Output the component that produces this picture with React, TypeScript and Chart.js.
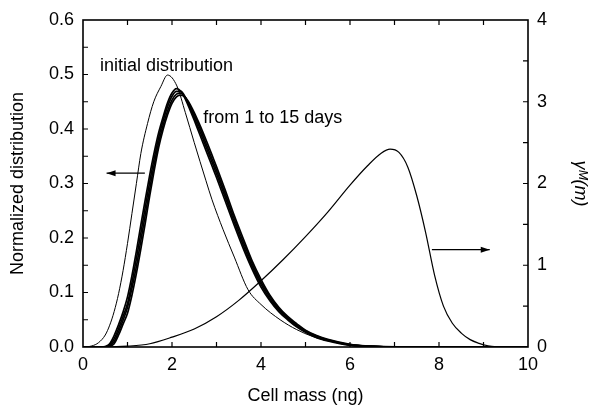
import React, { useEffect, useRef } from "react";
import { Chart, registerables } from "chart.js";

Chart.register(...registerables);

// ---- data ----
const initialX = [0, 0.2, 0.35, 0.5, 0.6, 0.7, 0.8, 0.9, 1.0, 1.1, 1.2, 1.3, 1.45, 1.59, 1.75, 1.9, 2.11, 2.3, 2.5, 2.76, 2.9, 3.15, 3.4, 3.71, 4.0, 4.43, 4.8, 5.17, 5.6, 6.0, 6.5, 7.0, 8.0, 10.0];
const initialY = [0, 0.002, 0.008, 0.022, 0.04, 0.065, 0.098, 0.14, 0.19, 0.245, 0.3, 0.355, 0.41, 0.45, 0.478, 0.499, 0.479, 0.43, 0.375, 0.306, 0.27, 0.215, 0.165, 0.105, 0.078, 0.05, 0.032, 0.019, 0.01, 0.005, 0.002, 0.001, 0, 0];

const daysX = [0, 0.4, 0.5, 0.6, 0.7, 0.8, 0.9, 1.0, 1.1, 1.2, 1.3, 1.4, 1.5, 1.6, 1.7, 1.8, 1.9, 2.0, 2.1, 2.2, 2.3, 2.4, 2.5, 2.6, 2.7, 2.8, 2.9, 3.0, 3.2, 3.4, 3.6, 3.8, 4.0, 4.2, 4.4, 4.6, 4.8, 5.0, 5.25, 5.5, 6.0, 6.5, 7.0, 8.0, 10.0];
const day1Y = [0, 0, 0.001, 0.006, 0.021, 0.041, 0.064, 0.092, 0.131, 0.176, 0.224, 0.271, 0.316, 0.357, 0.393, 0.422, 0.448, 0.466, 0.474, 0.469, 0.455, 0.436, 0.416, 0.395, 0.374, 0.353, 0.332, 0.311, 0.267, 0.223, 0.181, 0.143, 0.11, 0.085, 0.065, 0.05, 0.037, 0.027, 0.017, 0.011, 0.003, 0.001, 0, 0, 0];
const day5Y = [0, 0, 0, 0.004, 0.015, 0.034, 0.056, 0.08, 0.118, 0.162, 0.209, 0.257, 0.303, 0.346, 0.384, 0.415, 0.441, 0.46, 0.469, 0.469, 0.458, 0.44, 0.421, 0.401, 0.381, 0.36, 0.339, 0.318, 0.274, 0.229, 0.187, 0.148, 0.115, 0.088, 0.068, 0.052, 0.039, 0.028, 0.018, 0.012, 0.004, 0.001, 0, 0, 0];
const day10Y = [0, 0, 0, 0.002, 0.01, 0.028, 0.049, 0.073, 0.108, 0.148, 0.195, 0.243, 0.29, 0.335, 0.375, 0.407, 0.433, 0.453, 0.464, 0.466, 0.458, 0.443, 0.426, 0.407, 0.387, 0.366, 0.345, 0.324, 0.28, 0.235, 0.193, 0.153, 0.119, 0.092, 0.07, 0.054, 0.041, 0.03, 0.02, 0.013, 0.004, 0.001, 0, 0, 0];
const day15Y = [0, 0, 0, 0.001, 0.006, 0.022, 0.042, 0.062, 0.095, 0.135, 0.18, 0.228, 0.278, 0.324, 0.366, 0.399, 0.426, 0.447, 0.459, 0.462, 0.458, 0.446, 0.43, 0.412, 0.393, 0.373, 0.352, 0.331, 0.287, 0.241, 0.199, 0.158, 0.124, 0.095, 0.073, 0.056, 0.043, 0.031, 0.021, 0.014, 0.005, 0.001, 0, 0, 0];

const gammaX = [0, 0.5, 1.0, 1.5, 2.0, 2.5, 3.0, 3.5, 4.0, 4.5, 5.0, 5.5, 6.0, 6.4, 6.7, 6.9, 7.1, 7.3, 7.5, 7.7, 7.9, 8.1, 8.3, 8.5, 8.7, 8.9, 9.1, 9.3, 9.5, 10.0];
const gammaY = [0, 0, 0.01, 0.04, 0.12, 0.22, 0.37, 0.57, 0.81, 1.07, 1.35, 1.65, 1.98, 2.22, 2.37, 2.42, 2.38, 2.2, 1.85, 1.4, 0.88, 0.5, 0.29, 0.17, 0.09, 0.045, 0.015, 0.003, 0, 0];

const xTitle = "Cell mass (ng)";
const yTitle = "Normalized distribution";
const y2Title = "γᴹ(m)";
const labelInitial = "initial distribution";
const labelDays = "from 1 to 15 days";

const FONT = "'Liberation Sans', Arial, Helvetica, sans-serif";

function pts(xs: number[], ys: number[]) {
  return xs.map((x, i) => ({ x, y: ys[i] }));
}

const framePlugin = {
  id: "frame",
  afterDatasetsDraw(chart: any) {
    const { ctx, chartArea: a, scales } = chart;
    const xs = scales.x, ys = scales.y, y2 = scales.y2;
    ctx.save();
    ctx.strokeStyle = "#000";
    ctx.fillStyle = "#000";
    ctx.lineWidth = 1.6;
    ctx.strokeRect(a.left, a.top, a.right - a.left, a.bottom - a.top);
    ctx.lineWidth = 1.2;
    const tl = 5;
    ctx.beginPath();
    for (let v = 1; v < 10; v++) {
      const px = xs.getPixelForValue(v);
      ctx.moveTo(px, a.bottom); ctx.lineTo(px, a.bottom - tl);
      ctx.moveTo(px, a.top); ctx.lineTo(px, a.top + tl);
    }
    for (let i = 1; i < 12; i++) {
      const py = ys.getPixelForValue(i * 0.05);
      ctx.moveTo(a.left, py); ctx.lineTo(a.left + tl, py);
    }
    for (let i = 1; i < 8; i++) {
      const py = y2.getPixelForValue(i * 0.5);
      ctx.moveTo(a.right, py); ctx.lineTo(a.right - tl, py);
    }
    ctx.stroke();

    // annotations
    ctx.font = `18px ${FONT}`;
    ctx.textBaseline = "middle";
    ctx.textAlign = "left";
    ctx.fillText(labelInitial, xs.getPixelForValue(0.38), ys.getPixelForValue(0.516));
    ctx.fillText(labelDays, xs.getPixelForValue(2.7), ys.getPixelForValue(0.42));

    const arrow = (x1: number, x2: number, y: number) => {
      ctx.lineWidth = 1.2;
      ctx.beginPath();
      ctx.moveTo(x1, y);
      ctx.lineTo(x2, y);
      ctx.stroke();
      const dir = Math.sign(x2 - x1);
      ctx.beginPath();
      ctx.moveTo(x2, y);
      ctx.lineTo(x2 - dir * 9, y - 3);
      ctx.lineTo(x2 - dir * 9, y + 3);
      ctx.closePath();
      ctx.fill();
    };
    arrow(xs.getPixelForValue(1.39), xs.getPixelForValue(0.53), ys.getPixelForValue(0.319));
    arrow(xs.getPixelForValue(7.84), xs.getPixelForValue(9.14), y2.getPixelForValue(1.19));
    ctx.restore();
  },
};

export default function App() {
  const ref = useRef<HTMLCanvasElement | null>(null);
  useEffect(() => {
    if (!ref.current) return;
    Chart.defaults.font.family = FONT;
    Chart.defaults.color = "#000";
    const thin = { borderColor: "#000", borderWidth: 1, pointRadius: 0, fill: false, tension: 0 };
    const band = { borderColor: "#000", borderWidth: 1.7, pointRadius: 0, fill: false, cubicInterpolationMode: "monotone" as const };
    const chart = new Chart(ref.current, {
      type: "line",
      data: {
        datasets: [
          { ...thin, label: "initial", data: pts(initialX, initialY), yAxisID: "y", cubicInterpolationMode: "monotone" },
          { ...band, label: "day1", data: pts(daysX, day1Y), yAxisID: "y" },
          { ...band, label: "day5", data: pts(daysX, day5Y), yAxisID: "y" },
          { ...band, label: "day10", data: pts(daysX, day10Y), yAxisID: "y" },
          { ...band, label: "day15", data: pts(daysX, day15Y), yAxisID: "y" },
          { ...thin, borderWidth: 1.2, label: "gamma", data: pts(gammaX, gammaY), yAxisID: "y2", cubicInterpolationMode: "monotone" },
        ] as any,
      },
      options: {
        animation: false,
        responsive: false,
        layout: { padding: { top: 20, left: 0, right: 0, bottom: 0 } },
        plugins: { legend: { display: false }, tooltip: { enabled: false } },
        scales: {
          x: {
            type: "linear", min: 0, max: 10,
            grid: { display: false, drawTicks: false },
            border: { display: false },
            ticks: { stepSize: 2, padding: 7, font: { size: 18 }, color: "#000", maxRotation: 0 },
            title: { display: true, text: xTitle, font: { size: 18 }, color: "#000", padding: { top: 0, bottom: 1 } },
            afterFit: (s: any) => { s.height = 61; },
          },
          y: {
            type: "linear", position: "left", min: 0, max: 0.6,
            grid: { display: false, drawTicks: false },
            border: { display: false },
            ticks: { stepSize: 0.1, padding: 9, font: { size: 18 }, color: "#000", callback: (v: any) => Number(v).toFixed(1) },
            title: { display: true, text: yTitle, font: { size: 18 }, color: "#000", padding: { top: 7, bottom: 0 } },
            afterFit: (s: any) => { s.width = 83; },
          },
          y2: {
            type: "linear", position: "right", min: 0, max: 4,
            grid: { display: false, drawTicks: false },
            border: { display: false },
            ticks: { stepSize: 1, padding: 9, font: { size: 18 }, color: "#000" },
            title: { display: true, text: y2Title, font: { size: 18, style: "italic" }, color: "#000", padding: { top: 2, bottom: 0 } },
            afterFit: (s: any) => { s.width = 65; },
          },
        },
      } as any,
      plugins: [framePlugin],
    });
    return () => chart.destroy();
  }, []);
  return (
    <div style={{ position: "absolute", left: 0, top: 0, width: 593, height: 408, background: "#fff" }}>
      <canvas ref={ref} width={593} height={408} style={{ width: 593, height: 408, display: "block" }} />
    </div>
  );
}
